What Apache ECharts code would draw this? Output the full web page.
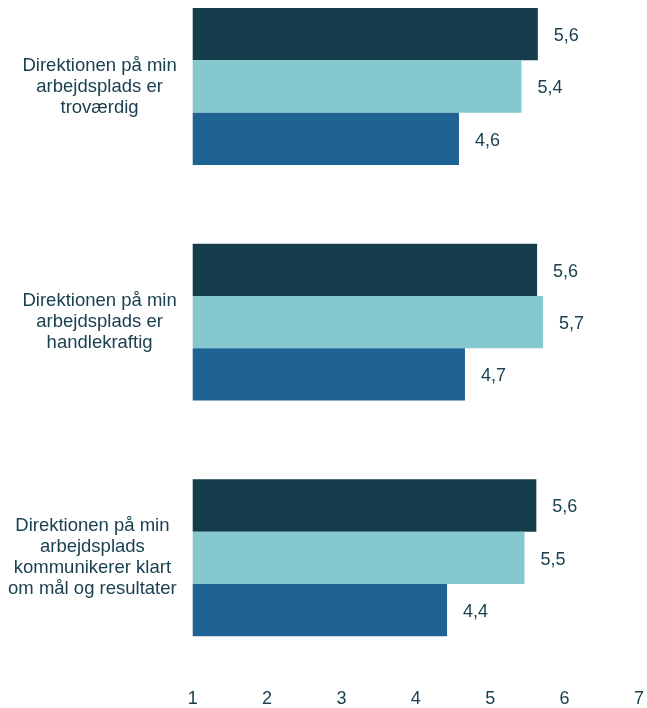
<!DOCTYPE html>
<html>
<head>
<meta charset="utf-8">
<script src="https://cdn.jsdelivr.net/npm/echarts@6/dist/echarts.min.js"></script>
<style>
  html, body { margin: 0; padding: 0; background: #fff; }
  #chart { width: 647px; height: 708px; }
</style>
</head>
<body>
<div id="chart"></div>
<script>
// kategorier (top til bund)
const categories = [
  'Direktionen på min\narbejdsplads er\ntroværdig',
  'Direktionen på min\narbejdsplads er\nhandlekraftig',
  'Direktionen på min\narbejdsplads\nkommunikerer klart\nom mål og resultater'
];
// tre serier pr. kategori (aflæst fra søjlernes længde)
const seriesA = [5.64, 5.63, 5.62];
const seriesB = [5.42, 5.71, 5.46];
const seriesC = [4.58, 4.66, 4.42];
const colors = ['#143c4a', '#85c8ce', '#1f6294'];
const xTicks = [1, 2, 3, 4, 5, 6, 7];

const textColor = '#1a4150';
const font = '"Liberation Sans", Arial, sans-serif';

const chart = echarts.init(document.getElementById('chart'));

function makeSeries(data, i) {
  return {
    type: 'bar',
    data: data,
    barGap: '0%',
    barCategoryGap: '33.4%',
    itemStyle: { color: colors[i] },
    label: {
      show: true,
      position: 'right',
      distance: 16,
      offset: [0, 2],
      color: textColor,
      fontFamily: font,
      fontSize: 18,
      formatter: p => p.value.toFixed(1).replace('.', ',')
    },
    silent: true
  };
}

chart.setOption({
  animation: false,
  grid: {
    left: 192.7, right: 8, top: -31.3, bottom: 32.4,
    containLabel: false,
    outerBoundsMode: 'none'
  },
  xAxis: {
    type: 'value',
    min: xTicks[0],
    max: xTicks[xTicks.length - 1],
    interval: 1,
    axisLine: { show: false },
    axisTick: { show: false },
    splitLine: { show: false },
    axisLabel: {
      color: textColor,
      fontFamily: font,
      fontSize: 18,
      margin: 14
    }
  },
  yAxis: {
    type: 'category',
    inverse: true,
    data: categories,
    axisLine: { show: false },
    axisTick: { show: false },
    axisLabel: {
      margin: 16,
      align: 'right',
      formatter: v => v.split('\n').map(s => '{c|' + s + '}').join('\n'),
      rich: {
        c: {
          align: 'center',
          color: textColor,
          fontFamily: font,
          fontSize: 18.5,
          lineHeight: 21
        }
      }
    }
  },
  series: [seriesA, seriesB, seriesC].map(makeSeries)
});
</script>
</body>
</html>
